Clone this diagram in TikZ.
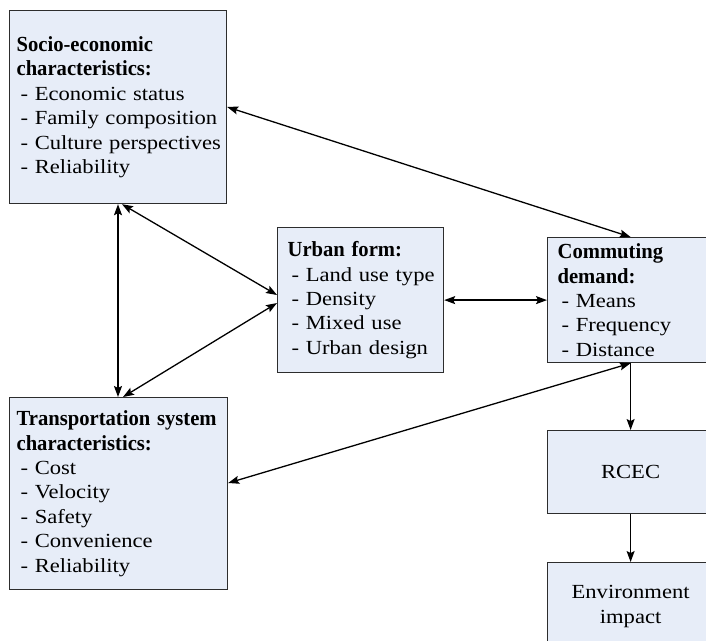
\documentclass[tikz,border=0pt]{standalone}
\usepackage{fontspec}
\setmainfont{Liberation Serif}[UprightFeatures={FakeStretch=1.13},BoldFeatures={FakeStretch=0.96}]
\usetikzlibrary{arrows.meta}
\definecolor{boxfill}{RGB}{231,237,248}
\definecolor{boxline}{RGB}{45,45,45}
\newcommand\dashitem[1]{\mbox{\hspace*{4pt}- #1}}
\newcommand\boxhead[1]{\mbox{\fontsize{21.5}{24.4}\selectfont\bfseries #1}}
\begin{document}
\begin{tikzpicture}[x=1pt,y=-1pt,
  box/.style={draw=boxline, fill=boxfill, line width=1.2pt, anchor=north west,
    inner xsep=7pt, inner ysep=0pt, align=left,
    font=\fontsize{20}{24.4}\selectfont},
  cbox/.style={box, align=center, text width=152pt},
  tip/.tip={Stealth[length=11pt,width=8pt,inset=2pt]},
  arr/.style={line width=1.3pt, tip-tip},
  arr1/.style={line width=1.3pt, -tip}]
\useasboundingbox (0,0) rectangle (706,640);
\node[box, text width=203pt, minimum height=193pt] (socio) at (9,10)
  {\boxhead{Socio-economic}\\\boxhead{characteristics:}\\\dashitem{Economic status}\\\dashitem{Family composition}\\\dashitem{Culture perspectives}\\\dashitem{Reliability}};
\node[box, text width=204pt, minimum height=192pt] (trans) at (9,397)
  {\boxhead{Transportation system}\\\boxhead{characteristics:}\\\dashitem{Cost}\\\dashitem{Velocity}\\\dashitem{Safety}\\\dashitem{Convenience}\\\dashitem{Reliability}};
\node[box, inner xsep=10pt, text width=146pt, minimum height=145pt] (urban) at (277,227)
  {\boxhead{Urban form:}\\\dashitem{Land use type}\\\dashitem{Density}\\\dashitem{Mixed use}\\\dashitem{Urban design}};
\node[box, inner xsep=10pt, text width=146pt, minimum height=125pt] (comm) at (547,237)
  {\boxhead{Commuting}\\\boxhead{demand:}\\\dashitem{Means}\\\dashitem{Frequency}\\\dashitem{Distance}};
\node[cbox, minimum height=83pt] (rcec) at (547,430) {RCEC};
\node[cbox, minimum height=88pt] (env) at (547,562) {Environment\\impact};
\draw[arr] ([yshift=-97pt]socio.north east) -- (comm.north);
\draw[arr] ([xshift=109pt]socio.south west) -- ([xshift=109pt]trans.north west);
\draw[arr] ([xshift=113pt]socio.south west) -- ([yshift=-68pt]urban.north west);
\draw[arr] ([xshift=114pt]trans.north west) -- ([yshift=-76pt]urban.north west);
\draw[arr] (urban.east) -- (comm.west);
\draw[arr] (comm.south) -- ([yshift=-86pt]trans.north east);
\draw[arr1] (comm.south) -- (rcec.north);
\draw[arr1] (rcec.south) -- (env.north);
\end{tikzpicture}
\end{document}
